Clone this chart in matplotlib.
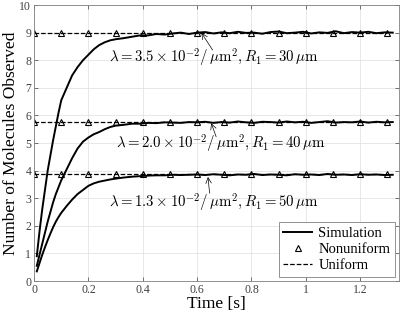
import matplotlib
matplotlib.use("Agg")
import matplotlib.pyplot as plt

plt.rcParams['font.family'] = ['Liberation Serif', 'DejaVu Serif']
plt.rcParams['mathtext.fontset'] = 'cm'

# simulation time points
t_sim = [0.01, 0.02, 0.03, 0.04, 0.05, 0.06, 0.07, 0.08, 0.09, 0.10,
         0.12, 0.14, 0.16, 0.18, 0.20, 0.22, 0.24, 0.26, 0.28, 0.30,
         0.33, 0.36, 0.39, 0.42, 0.45, 0.48, 0.51, 0.54, 0.57, 0.60,
         0.63, 0.66, 0.69, 0.72, 0.75, 0.78, 0.81, 0.84, 0.87, 0.90,
         0.93, 0.96, 0.99, 1.02, 1.05, 1.08, 1.11, 1.14, 1.17, 1.20,
         1.23, 1.26, 1.29, 1.32]

# R1 = 30 um
sim_30 = [0.9, 1.8, 2.6, 3.3, 4.0, 4.55, 5.1, 5.6, 6.1, 6.55,
          7.0, 7.45, 7.75, 8.0, 8.2, 8.4, 8.55, 8.65, 8.72, 8.76,
          8.8, 8.85, 8.9, 8.9, 8.95, 8.93, 8.97, 9.0, 8.95, 9.0,
          9.02, 8.97, 9.01, 8.98, 9.03, 8.99, 9.0, 8.96, 9.02, 9.04,
          8.98, 9.0, 9.03, 8.97, 9.01, 8.99, 9.05, 8.98, 9.02, 9.0,
          9.03, 8.98, 9.01, 9.0]
# R1 = 40 um
sim_40 = [0.55, 0.95, 1.35, 1.75, 2.15, 2.5, 2.85, 3.15, 3.4, 3.65,
          4.05, 4.45, 4.8, 5.05, 5.2, 5.32, 5.4, 5.5, 5.58, 5.63,
          5.66, 5.7, 5.7, 5.73, 5.72, 5.75, 5.74, 5.73, 5.76, 5.75,
          5.77, 5.73, 5.76, 5.74, 5.78, 5.75, 5.73, 5.77, 5.76, 5.74,
          5.78, 5.75, 5.77, 5.73, 5.76, 5.79, 5.74, 5.76, 5.75, 5.78,
          5.74, 5.77, 5.75, 5.76]
# R1 = 50 um
sim_50 = [0.35, 0.65, 0.95, 1.22, 1.48, 1.72, 1.95, 2.15, 2.32, 2.47,
          2.72, 2.95, 3.15, 3.3, 3.45, 3.54, 3.6, 3.64, 3.68, 3.71,
          3.75, 3.78, 3.8, 3.82, 3.83, 3.83, 3.85, 3.84, 3.85, 3.86,
          3.84, 3.87, 3.85, 3.83, 3.86, 3.85, 3.88, 3.84, 3.86, 3.85,
          3.83, 3.87, 3.85, 3.86, 3.84, 3.88, 3.85, 3.86, 3.84, 3.87,
          3.85, 3.86, 3.84, 3.85]

# analytical results
t_model = [0, 0.1, 0.2, 0.3, 0.4, 0.5, 0.6, 0.7, 0.8, 0.9, 1.0, 1.1, 1.2, 1.3]
levels = [9.0, 5.75, 3.86]

labels = [r'$\lambda = 3.5 \times 10^{-2}/\,\mu\mathrm{m}^2, R_1 = 30\,\mu\mathrm{m}$',
          r'$\lambda = 2.0 \times 10^{-2}/\,\mu\mathrm{m}^2, R_1 = 40\,\mu\mathrm{m}$',
          r'$\lambda = 1.3 \times 10^{-2}/\,\mu\mathrm{m}^2, R_1 = 50\,\mu\mathrm{m}$']
label_xy = [(0.277, 8.12), (0.30, 5.0), (0.277, 2.87)]
arrow_tip = [(0.616, 8.99), (0.652, 5.72), (0.64, 3.77)]
arrow_tail = [(0.657, 8.37), (0.67, 5.23), (0.646, 3.18)]

fig = plt.figure(figsize=(4.01, 3.14), dpi=100)
ax = fig.add_axes([0.085, 0.105, 0.91, 0.879])

sims = [sim_30, sim_40, sim_50]
for i in range(3):
    ax.plot(t_sim, sims[i], '-', color='black', lw=1.4,
            label='Simulation' if i == 0 else None)
    ax.plot(t_model, [levels[i]] * len(t_model), '^', color='black',
            mfc='none', ms=5, mew=0.8,
            label='Nonuniform' if i == 0 else None)
    ax.plot(t_model, [levels[i]] * len(t_model), '--', color='black',
            lw=0.9, label='Uniform' if i == 0 else None)
    ax.text(label_xy[i][0], label_xy[i][1], labels[i], fontsize=10.7,
            va='center', ha='left')
    ax.annotate('', xy=arrow_tip[i], xytext=arrow_tail[i],
                arrowprops=dict(arrowstyle='->', lw=0.5, color='black',
                                shrinkA=0, shrinkB=0))

ax.set_xlim(0, 1.343)
ax.set_ylim(0, 10)
ax.set_xticks([0, 0.2, 0.4, 0.6, 0.8, 1.0, 1.2])
ax.set_xticklabels(['0', '0.2', '0.4', '0.6', '0.8', '1', '1.2'])
ax.set_yticks(range(0, 11))
ax.tick_params(direction='in', labelsize=8.5, length=3, width=0.5,
               colors='#404040', top=True, right=True, pad=2)
ax.grid(True, color='#e4e4e4', lw=0.6)
ax.set_axisbelow(True)
for s in ax.spines.values():
    s.set_color('#808080')
    s.set_linewidth(0.6)

ax.set_xlabel('Time [s]', fontsize=12.5, labelpad=0)
ax.set_ylabel('Number of Molecules Observed', fontsize=12.5, labelpad=0)

leg = ax.legend(loc='lower right', fontsize=10.5, handlelength=2.0,
                handletextpad=0.4, borderpad=0.3, labelspacing=0.2,
                fancybox=False, framealpha=1, borderaxespad=0.3)
leg.get_frame().set_edgecolor('#808080')
leg.get_frame().set_linewidth(0.6)

fig.savefig('out.png', dpi=100)
